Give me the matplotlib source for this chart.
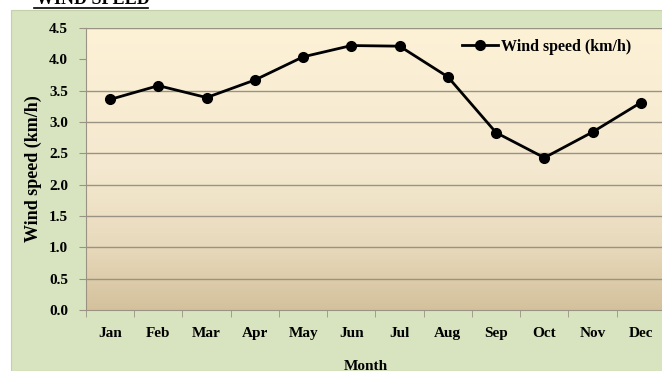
import numpy as np
import matplotlib
matplotlib.use('Agg')
from matplotlib import pyplot as plt
from matplotlib.colors import LinearSegmentedColormap

months = ['Jan', 'Feb', 'Mar', 'Apr', 'May', 'Jun', 'Jul', 'Aug', 'Sep', 'Oct', 'Nov', 'Dec']
wind_speed = [3.36, 3.58, 3.39, 3.67, 4.04, 4.22, 4.21, 3.72, 2.83, 2.43, 2.84, 3.31]
y_ticks = [0.0, 0.5, 1.0, 1.5, 2.0, 2.5, 3.0, 3.5, 4.0, 4.5]
grid_levels = [0.5, 1.0, 1.5, 2.0, 2.5, 3.0, 3.5, 4.5]

plt.rcParams['font.family'] = ['Liberation Serif', 'DejaVu Serif']
plt.rcParams['font.weight'] = 'bold'

fig = plt.figure(figsize=(6.62, 3.71), dpi=100)
fig.patch.set_facecolor('white')

# green chart frame, offset from the top-left corner
frame = plt.Rectangle((11 / 662, 0), 1, 1 - 10 / 371, transform=fig.transFigure,
                      facecolor='#d8e4bf', edgecolor='#c4d0aa', lw=0.8, zorder=-10)
fig.patches.append(frame)

# heading, mostly cut off by the top edge
fig.text(36 / 662, 1 + 9 / 371, 'WIND SPEED', fontsize=13, fontweight='bold',
         ha='left', va='top', color='black')
fig.add_artist(plt.Line2D([34 / 662, 148 / 662], [1 - 8 / 371, 1 - 8 / 371],
                          transform=fig.transFigure, color='black', lw=1.2))

ax = fig.add_axes([86 / 662, 1 - 310 / 371, 579 / 662, 282 / 371])
ax.set_zorder(1)
x = np.arange(len(months))
ax.set_xlim(-0.5, 11.5)
ax.set_ylim(0, 4.5)

# plot-area gradient: cream at the top, tan near the bottom
cmap = LinearSegmentedColormap.from_list(
    'bg', [(0.0, '#d4c19c'), (0.22, '#e7d9bb'), (0.5, '#f4e9d0'), (1.0, '#fdf1d6')])
grad = np.linspace(0, 1, 256).reshape(-1, 1)
ax.imshow(grad, aspect='auto', cmap=cmap, origin='lower',
          extent=(-0.5, 11.5, 0, 4.5), zorder=0)

for g in grid_levels:
    ax.axhline(g, color='#9a9282', lw=1.0, zorder=1)

ax.plot(x, wind_speed, color='black', lw=2.0, marker='o', markersize=7,
        label='Wind speed (km/h)', zorder=3)

ax.set_yticks(y_ticks)
ax.set_yticklabels(['%.1f' % v for v in y_ticks])
ax.set_xticks(x)
ax.set_xticklabels(months)
ax.set_xticks(np.arange(-0.5, 12, 1), minor=True)
ax.tick_params(axis='x', which='major', length=0, pad=12, labelsize=11)
ax.tick_params(axis='x', which='minor', length=5, color='#9a9282')
ax.tick_params(axis='y', length=5, color='#9a9282', pad=8, labelsize=11)

for side in ['top', 'right']:
    ax.spines[side].set_visible(False)
ax.spines['left'].set_color('#9a9282')
ax.spines['bottom'].set_color('#9a9282')

ax.set_ylabel('Wind speed (km/h)', fontsize=13, fontweight='bold', labelpad=5)
fig.text(366 / 662, 1 - 366 / 371, 'Month', fontsize=11, fontweight='bold',
         ha='center', va='center')

ax.legend(loc='center left', bbox_to_anchor=(456 / 662, 1 - 47 / 371),
          bbox_transform=fig.transFigure, frameon=False, fontsize=11.5,
          handlelength=2.2, handletextpad=0.2, borderaxespad=0)

fig.savefig('out.png', dpi=100, facecolor=fig.get_facecolor())
